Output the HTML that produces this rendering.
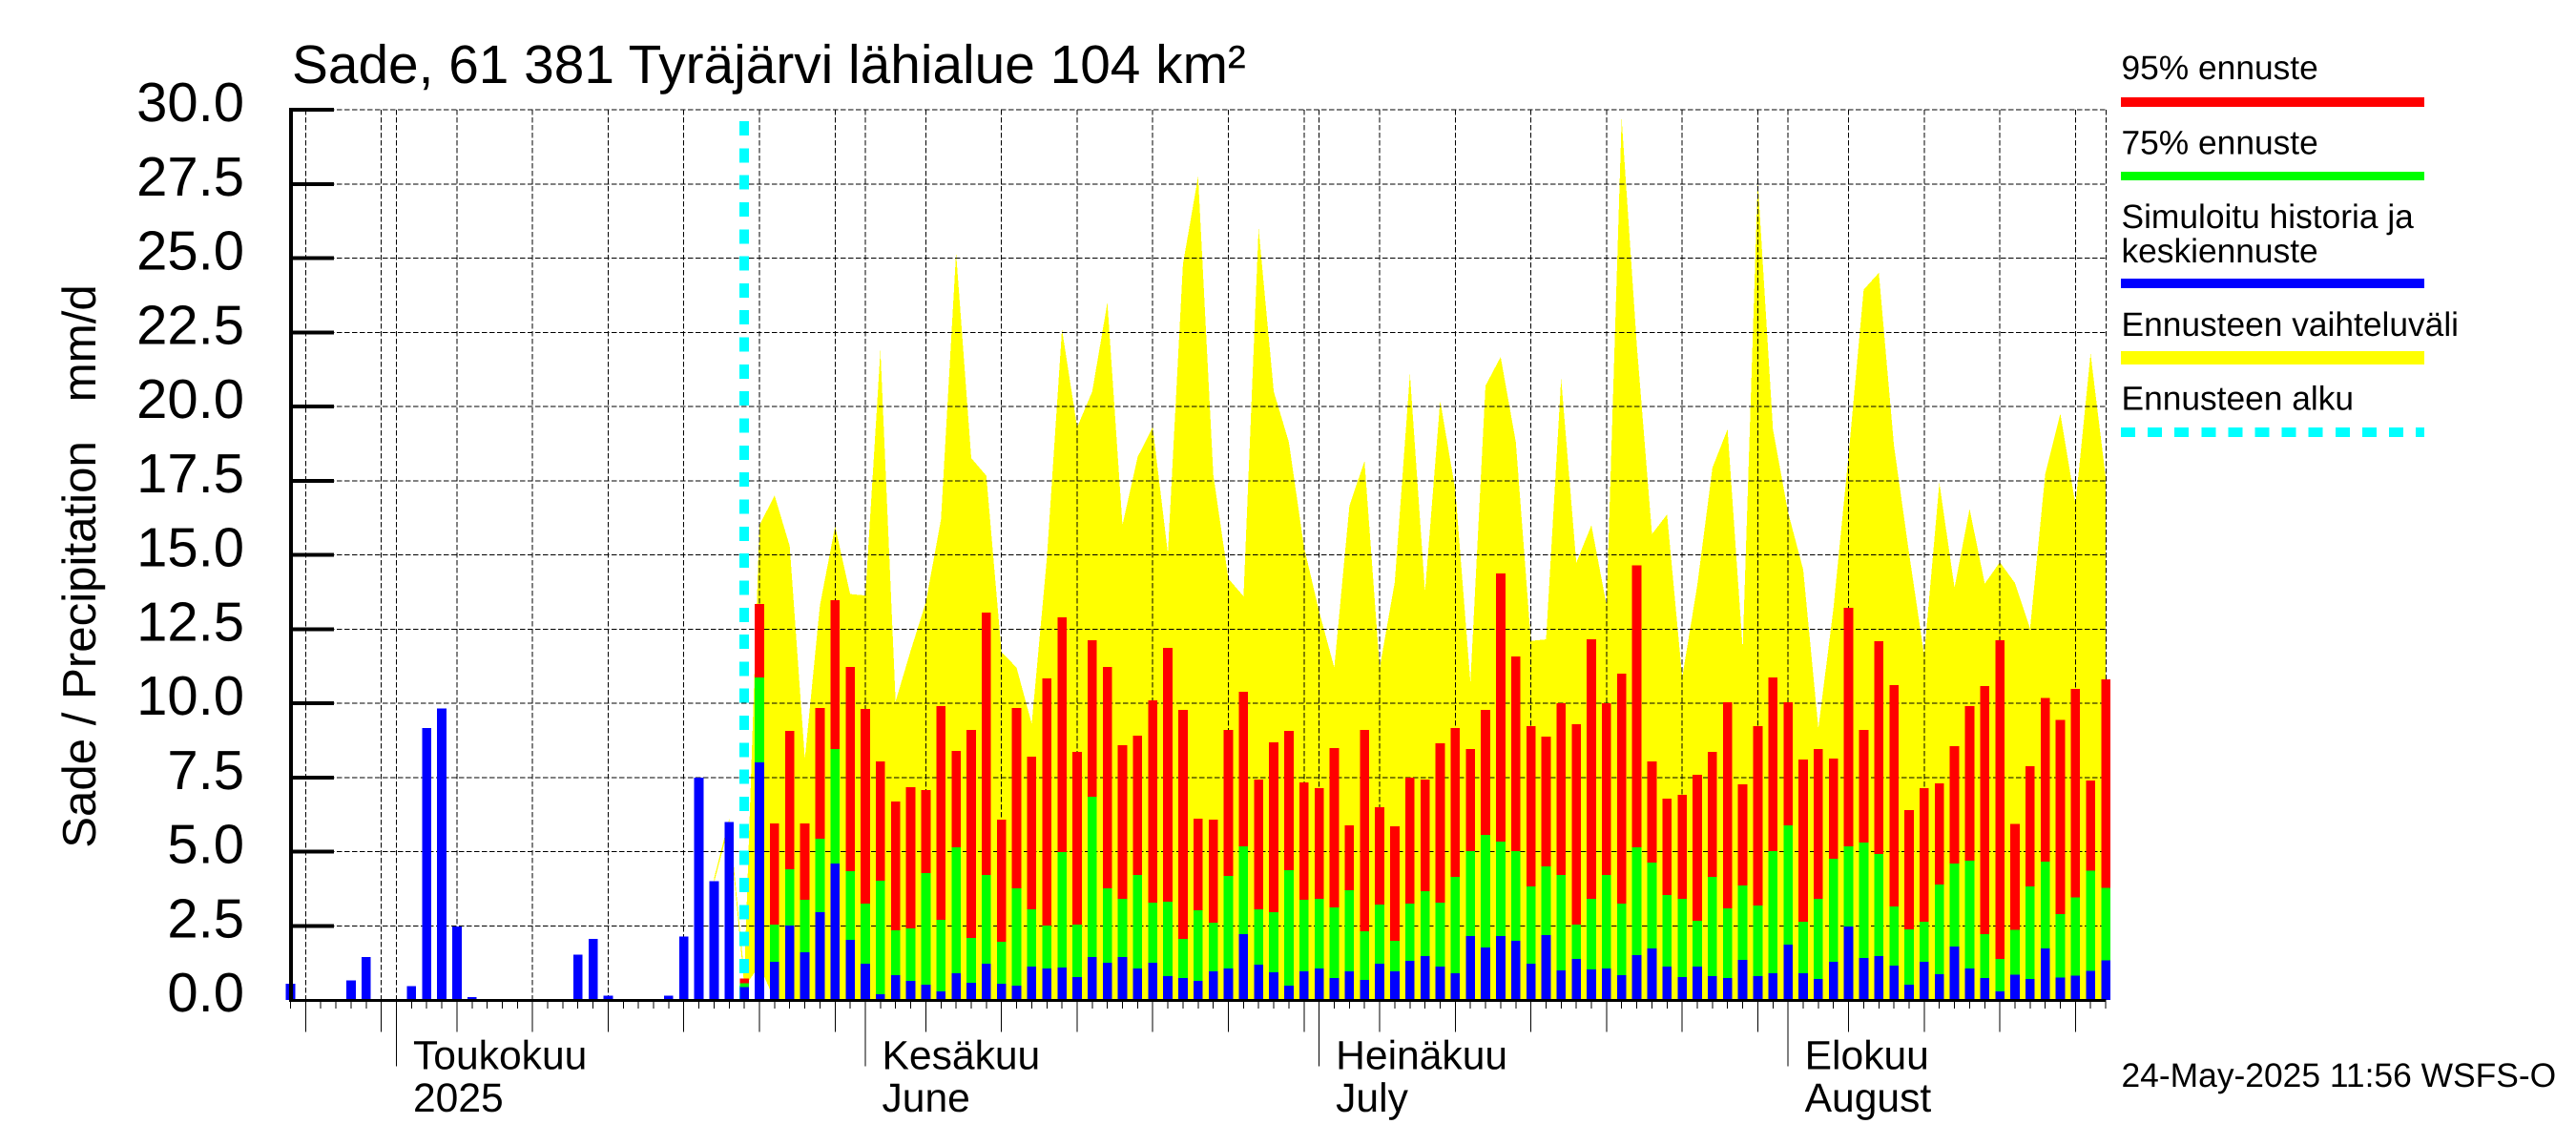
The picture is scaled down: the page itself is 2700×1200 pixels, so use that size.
<!DOCTYPE html>
<html lang="fi">
<head>
<meta charset="utf-8">
<title>Sade, 61 381 Tyräjärvi lähialue</title>
<style>
html,body{margin:0;padding:0;background:#fff;}
svg{display:block;}
text{font-family:"Liberation Sans",Arial,sans-serif;fill:#000;text-rendering:geometricPrecision;}
</style>
</head>
<body>
<svg id="chart" xmlns="http://www.w3.org/2000/svg" width="2700" height="1200" viewBox="0 0 2700 1200">
  <rect x="0" y="0" width="2700" height="1200" fill="#ffffff"/>
  <g id="band"></g>
  <g id="grid"></g>
  <line id="start" stroke="#00ffff" stroke-width="10" stroke-dasharray="15 13.32" shape-rendering="crispEdges"></line>
  <g id="bars"></g>
  <g id="axes"></g>
  <g id="labels"></g>

  <text x="306" y="87" font-size="56.8">Sade, 61 381 Tyräjärvi lähialue 104 km²</text>
  <text x="100" y="593.5" font-size="49.2" text-anchor="middle" transform="rotate(-90 100 593.5)" style="white-space:pre">Sade / Precipitation   mm/d</text>

  <g shape-rendering="crispEdges">
    <text x="2223.5" y="83" font-size="35.35">95% ennuste</text>
    <rect x="2223" y="102" width="318" height="10" fill="#ff0000"/>
    <text x="2223.5" y="161.5" font-size="35.35">75% ennuste</text>
    <rect x="2223" y="180" width="318" height="9" fill="#00ff00"/>
    <text x="2223.5" y="239" font-size="35.35">Simuloitu historia ja</text>
    <text x="2223.5" y="275" font-size="35.35">keskiennuste</text>
    <rect x="2223" y="292" width="318" height="10" fill="#0000ff"/>
    <text x="2223.5" y="352" font-size="35.35">Ennusteen vaihteluväli</text>
    <rect x="2223" y="368" width="318" height="14" fill="#ffff00"/>
    <text x="2223.5" y="429.5" font-size="35.35">Ennusteen alku</text>
    <line x1="2223" y1="453" x2="2541" y2="453" stroke="#00ffff" stroke-width="10" stroke-dasharray="15 13.1"/>
  </g>

  <text x="2223.5" y="1139" font-size="35.4">24-May-2025 11:56 WSFS-O</text>
</svg>

<script>
const startDate = "2025-04-24";
const yTickLabels = ["0.0","2.5","5.0","7.5","10.0","12.5","15.0","17.5","20.0","22.5","25.0","27.5","30.0"];
const yTickValues = [0,2.5,5,7.5,10,12.5,15,17.5,20,22.5,25,27.5,30];
const monthLabelsFi = {"2025-05-01":"Toukokuu","2025-06-01":"Kesäkuu","2025-07-01":"Heinäkuu","2025-08-01":"Elokuu"};
const monthLabelsEn = {"2025-05-01":"2025","2025-06-01":"June","2025-07-01":"July","2025-08-01":"August"};

// Simulated history and mean forecast, one value per day from 24 April.
const blueValues = [
0.54,0.03,0.03,0,0.66,1.44,0,0,0.47,9.16,9.83,2.47,0.09,0,0,0.03,0,0,0,1.53,2.05,0.15,0,0,0,0.15,2.14,7.50,4.01,6.00,0.44,
8.01,1.29,2.51,1.61,2.96,4.60,2.03,1.22,0.19,0.84,
0.64,0.51,0.29,0.90,0.58,1.22,0.55,0.48,1.13,1.06,
1.09,0.77,1.45,1.25,1.45,1.06,1.25,0.80,0.74,0.64,
0.96,1.06,2.22,1.19,0.93,0.48,0.96,1.06,0.74,0.96,
0.68,1.22,0.96,1.32,1.48,1.13,0.90,2.15,1.77,2.15,
1.99,1.22,2.19,1.00,1.38,1.03,1.06,0.84,1.51,1.74,
1.13,0.77,1.13,0.80,0.74,1.35,0.80,0.90,1.86,0.90,
0.71,1.29,2.48,1.41,1.48,1.16,0.51,1.29,0.87,1.80,
1.06,0.74,0.29,0.85,0.70,1.73,0.75,0.82,0.98,1.33];

// Forecast series start on the forecast day (24 May, day 30).
const forecastStartDay = 30;
const redValues = [
0.73,
13.34,5.95,9.07,5.95,9.84,13.47,11.22,9.81,8.04,6.69,
7.17,7.07,9.90,8.39,9.10,13.05,6.08,9.84,8.20,10.84,
12.89,8.36,12.12,11.22,8.59,8.91,10.10,11.86,9.77,6.11,
6.08,9.10,10.39,7.43,8.68,9.07,7.33,7.14,8.49,5.88,
9.10,6.50,5.85,7.49,7.43,8.65,9.16,8.46,9.77,14.37,
11.58,9.23,8.87,10.00,9.29,12.15,10.00,11.00,14.65,8.04,
6.78,6.91,7.59,8.36,10.03,7.27,9.23,10.87,10.03,8.10,
8.46,8.14,13.22,9.10,12.09,10.61,6.40,7.14,7.30,8.55,
9.90,10.58,12.12,5.93,7.88,10.17,9.43,10.49,7.40,10.81];
const greenValues = [
0.57,
10.87,2.54,4.41,3.38,5.43,8.46,4.34,3.25,4.02,2.35,
2.41,4.28,2.70,5.14,2.09,4.21,1.96,3.76,3.05,2.51,
4.98,2.54,6.85,3.76,3.41,4.21,3.28,3.31,2.06,3.02,
2.60,4.18,5.18,3.05,2.96,4.37,3.38,3.41,3.12,3.70,
2.32,3.22,1.99,3.25,3.67,3.28,4.15,5.02,5.56,5.34,
5.02,3.83,4.50,4.21,2.54,3.41,4.21,3.25,5.14,4.63,
3.54,3.41,2.67,4.15,3.09,3.86,3.18,5.02,5.88,2.64,
3.41,4.76,5.18,5.31,4.92,3.15,2.38,2.64,3.89,4.60,
4.69,2.22,1.38,2.37,3.83,4.67,2.90,3.46,4.35,3.78];

// Ensemble envelope, from day 28 onward; lower edge is zero after the listed values.
const bandStartDay = 28;
const yellowMax = [
4.1,6.1,0.85,
16.0,17.0,15.3,8.13,13.3,15.96,13.68,13.63,21.9,10.06,
11.78,13.4,16.2,25.18,18.26,17.67,11.73,11.2,9.31,14.9,
22.6,19.3,20.5,23.5,16.0,18.3,19.3,15.05,24.8,27.75,
17.7,14.2,13.6,26.0,20.5,18.8,15.26,13.1,11.2,16.66,
18.16,11.19,14.08,21.1,13.76,20.2,17.2,10.7,20.7,21.67,
18.8,12.1,12.15,20.94,14.73,16.0,13.3,29.7,22.07,15.7,
16.36,10.87,13.98,17.94,19.23,11.83,27.6,19.23,16.44,14.5,
9.15,13.2,18.37,23.94,24.5,18.69,15.05,11.62,17.43,13.89,
16.55,14.03,14.75,14.05,12.51,17.73,19.76,16.7,21.78,17.6];
const yellowMin = [3.95,5.9,0.44,1.15];

const svgNS = "http://www.w3.org/2000/svg";
function xScale(day){ return 304.5 + 15.855 * day; }
function yScale(v){ return 1048 - 31.1 * v; }
function add(parent, tag, attrs){
  const el = document.createElementNS(svgNS, tag);
  for (const k in attrs) el.setAttribute(k, attrs[k]);
  parent.appendChild(el);
  return el;
}
function dateOf(day){
  return new Date(Date.parse(startDate + "T00:00:00Z") + day * 86400000);
}
const bandG = document.getElementById("band");
const gridG = document.getElementById("grid");
const barsG = document.getElementById("bars");
const axesG = document.getElementById("axes");
const labelsG = document.getElementById("labels");
const lastDay = blueValues.length - 1;
const plotRight = xScale(lastDay) + 0.5;
const barWidth = 9.7;

// Range band
const topPts = yellowMax.map((v, k) => xScale(bandStartDay + k).toFixed(1) + "," + yScale(v).toFixed(1));
const botPts = yellowMax.map((v, k) => xScale(bandStartDay + k).toFixed(1) + "," + yScale(yellowMin[k] || 0).toFixed(1)).reverse();
const bandPoly = add(bandG, "polygon", {points: topPts.concat(botPts).join(" "), fill: "#ffff00", "shape-rendering": "crispEdges"});



// Horizontal grid and y ticks
yTickValues.forEach((v, k) => {
  const y = yScale(v);
  if (v > 0) {
    const g = add(gridG, "line", {x1: 305, y1: y, x2: plotRight, y2: y, stroke: "#000", "stroke-width": 1, "stroke-dasharray": "5.5 2.5", "shape-rendering": "crispEdges"});
    
    
    const t = add(axesG, "rect", {x: 305, y: y - 2, width: 45, height: 4, fill: "#000", "shape-rendering": "crispEdges"});
    
    
  }
  const lab = add(labelsG, "text", {x: 256, y: y + 12, "font-size": 58, "text-anchor": "end"});
  lab.textContent = yTickLabels[k];
  
  
});

// Vertical grid and x ticks, one tick per day
for (let d = 0; d <= lastDay; d++) {
  const dt = dateOf(d);
  const dom = dt.getUTCDate();
  const iso = dt.toISOString().slice(0, 10);
  const x = xScale(d);
  const isMonth = dom === 1;
  const isMajor = dom % 5 === 0;
  if (isMonth || isMajor) {
    const g = add(gridG, "line", {x1: x, y1: 115, x2: x, y2: 1048, stroke: "#000", "stroke-width": 1, "stroke-dasharray": "5.5 2.5", "shape-rendering": "crispEdges"});
    
    
  }
  const tickEnd = isMonth ? 1117.5 : (isMajor ? 1081.5 : 1057);
  const tick = add(axesG, "line", {x1: x, y1: 1048, x2: x, y2: tickEnd, stroke: "#000", "stroke-width": 1, "shape-rendering": "crispEdges"});
  
  
  if (isMonth && monthLabelsFi[iso]) {
    const a = add(labelsG, "text", {x: x + 17.5, y: 1120.7, "font-size": 42.6});
    a.textContent = monthLabelsFi[iso];
    
    
    const b = add(labelsG, "text", {x: x + 17.5, y: 1165, "font-size": 42.6});
    b.textContent = monthLabelsEn[iso];
    
    
  }
}
// Right frame
const frame = add(gridG, "line", {x1: plotRight, y1: 115, x2: plotRight, y2: 1048, stroke: "#000", "stroke-width": 1, "stroke-dasharray": "5.5 2.5", "shape-rendering": "crispEdges"});



// Forecast start line
const startLine = document.getElementById("start");
startLine.setAttribute("x1", xScale(forecastStartDay));
startLine.setAttribute("x2", xScale(forecastStartDay));
startLine.setAttribute("y1", 127);
startLine.setAttribute("y2", 1048);

// Bars
function bar(day, value, color){
  const y = yScale(value);
  const r = add(barsG, "rect", {x: xScale(day) - barWidth / 2, y: y, width: barWidth, height: Math.max(0, 1048 - y), fill: color, "shape-rendering": "crispEdges"});
  return r;
}
for (let k = 0; k < redValues.length; k++) {
  const r = bar(forecastStartDay + k, redValues[k], "#ff0000");
  
  
  const g = bar(forecastStartDay + k, greenValues[k], "#00ff00");
  
  
}
blueValues.forEach((v, d) => {
  if (v <= 0) return;
  const b = bar(d, v, "#0000ff");
  
  
});

// Axis lines
const yAxis = add(axesG, "rect", {x: 303, y: 113, width: 4, height: 937, fill: "#000", "shape-rendering": "crispEdges"});


const xAxis = add(axesG, "rect", {x: 303, y: 1047, width: plotRight - 303, height: 3, fill: "#000", "shape-rendering": "crispEdges"});


</script>
</body>
</html>
